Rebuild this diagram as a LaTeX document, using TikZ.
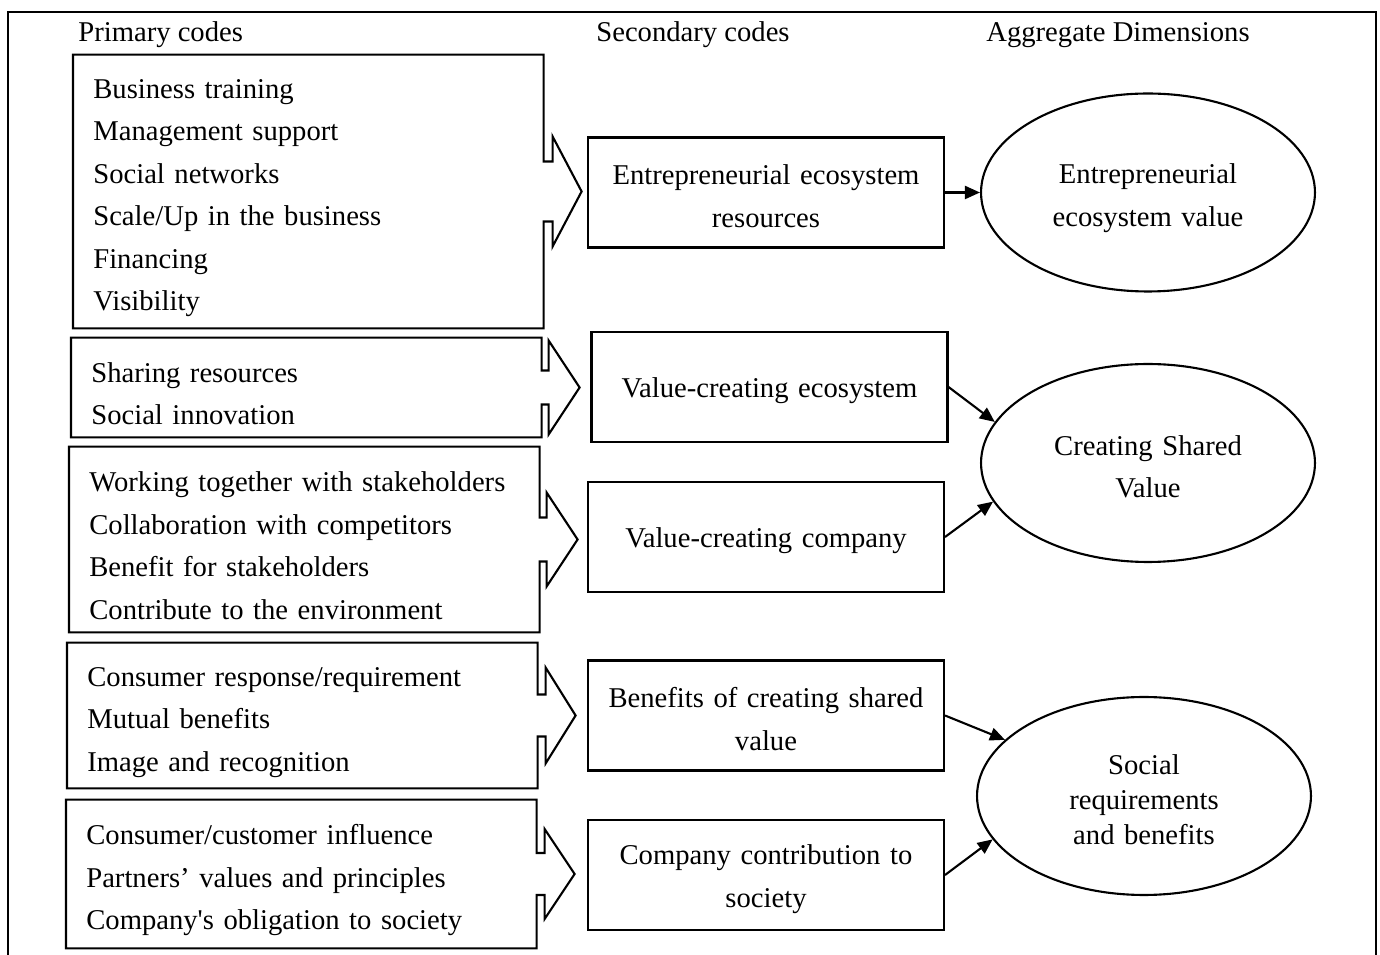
\documentclass[tikz,border=0pt]{standalone}
\usepackage{fontspec}
\setmainfont{Liberation Serif}
\usepackage{tikz}
\usetikzlibrary{arrows.meta,shapes.geometric,calc}
\tikzset{
  txt/.style={font=\fontsize{16.3}{24.2}\selectfont,inner sep=0pt},
  % taller first line pushes the text a little lower in its node
  down/.style={execute at begin node={\rule{0pt}{#1}}},
  primbox/.style={txt,down=18.5pt,align=left,text width=8.6cm,minimum width=9.4cm,inner xsep=0.4cm,anchor=west},
  secbox/.style={txt,down=15.5pt,draw,line width=1.2pt,align=center,text width=6.9cm,minimum width=7.12cm,minimum height=2.2cm},
  dimnode/.style={txt,down=15.5pt,draw,ellipse,line width=1.2pt,align=center,text width=4.4cm,minimum width=6.68cm,minimum height=3.96cm},
  outline/.style={draw,line width=1.2pt},
  ar/.style={-{Triangle[length=3mm,width=2.6mm]},line width=1.2pt},
}
% box of primary codes with the notched arrow on its right side
% #1 node, #2 half shaft, #3 half head, #4 stub
\newcommand\codearrow[4]{%
  \draw[outline] (#1.north west) -- (#1.north east) -- ($(#1.east)+(0,-#2)$) -- ++(#4,0)
    -- ($(#1.east)+(#4,-#3)$) -- ($(#1.east)+(38,0)$) -- ($(#1.east)+(#4,#3)$)
    -- ($(#1.east)+(#4,#2)$) -- ($(#1.east)+(0,#2)$) -- (#1.south east) -- (#1.south west) -- cycle;}

\begin{document}
\begin{tikzpicture}[x=0.02cm,y=-0.02cm]
  \useasboundingbox (0,0) rectangle (1380,955);
  \draw[line width=1.3pt] (8,955) |- (1376,12) -- (1376,955);

  % headings
  \node[txt,anchor=west] (hprim) at (78,35) {Primary codes};
  \node[txt] (hsec) at (693,35) {Secondary codes};
  \node[txt] (hagg) at (1118,35) {Aggregate Dimensions};

  % primary codes
  \node[primbox,minimum height=5.46cm] (p1) at (73,191.5) {Business training\\Management support\\Social networks\\Scale/Up in the business\\Financing\\Visibility};
  \node[primbox,minimum height=1.98cm] (p2) at (71,387.5) {Sharing resources\\Social innovation};
  \node[primbox,minimum height=3.7cm] (p3) at (69,539.5) {Working together with stakeholders\\Collaboration with competitors\\Benefit for stakeholders\\Contribute to the environment};
  \node[primbox,minimum height=2.9cm] (p4) at (67,715.5) {Consumer response/requirement\\Mutual benefits\\Image and recognition};
  \node[primbox,minimum height=2.96cm] (p5) at (66,874) {Consumer/customer influence\\Partners’ values and principles\\Company\textquotesingle s obligation to society};
  \codearrow{p1}{30}{55}{9}
  \codearrow{p2}{17}{47}{7}
  \codearrow{p3}{22}{47}{7}
  \codearrow{p4}{21}{48}{8}
  \codearrow{p5}{21}{45}{8}

  % secondary codes
  \node[secbox,down=13.5pt] (s1) at (766,192.5) {Entrepreneurial ecosystem\\resources};
  \node[secbox] (s2) at (769.5,387) {Value-creating ecosystem};
  \node[secbox] (s3) at (766,537) {Value-creating company};
  \node[secbox,down=14.5pt] (s4) at (766,715.5) {Benefits of creating shared\\value};
  \node[secbox,down=16pt] (s5) at (766,875) {Company contribution to\\society};

  % aggregate dimensions
  \node[dimnode,down=17.5pt] (e1) at (1148,192.5) {Entrepreneurial\\ecosystem value};
  \node[dimnode] (e2) at (1148,463) {Creating Shared\\Value};
  \node[dimnode,down=12pt,font=\fontsize{16.3}{20}\selectfont] (e3) at (1144,796) {Social\\requirements\\and benefits};

  \draw[ar] (s1.east) -- (e1.west);
  \draw[ar] (s2.east) -- (e2.165);
  \draw[ar] (s3.east) -- (e2.194);
  \draw[ar] (s4.east) -- (e3.158);
  \draw[ar] (s5.east) -- (e3.196);
\end{tikzpicture}
\end{document}
